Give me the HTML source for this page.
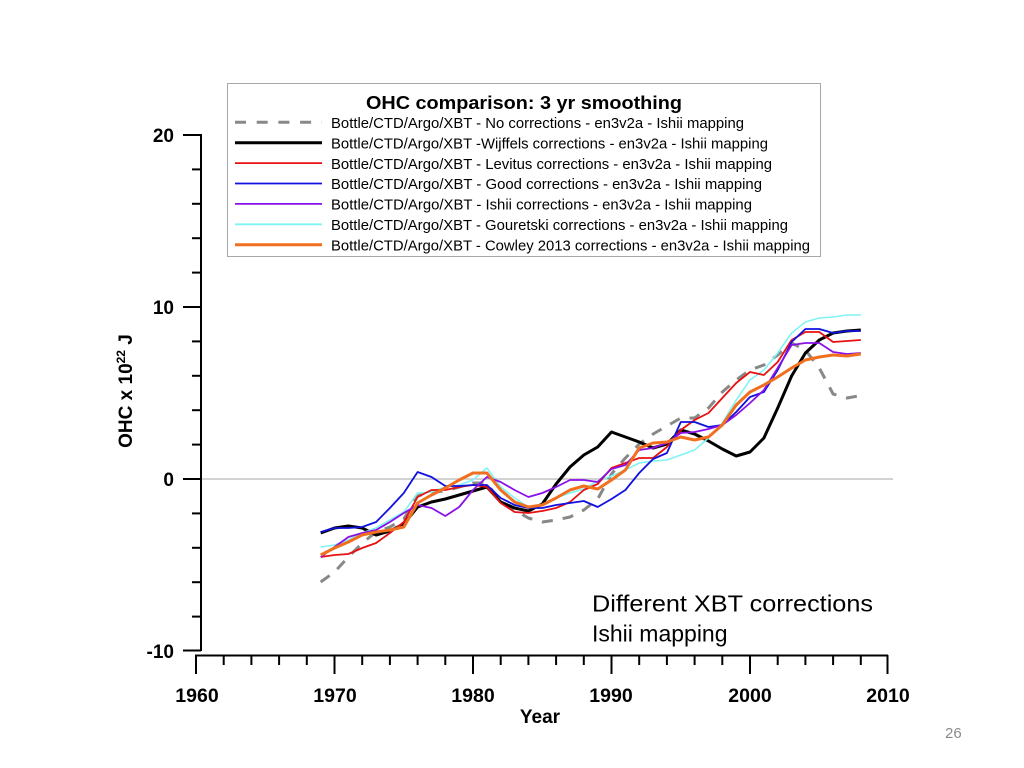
<!DOCTYPE html>
<html>
<head>
<meta charset="utf-8">
<style>
html,body{margin:0;padding:0;background:#fff;}
svg{display:block;}
text{font-family:"Liberation Sans",Arial,sans-serif;}
</style>
</head>
<body>
<svg width="1024" height="768" viewBox="0 0 1024 768" xmlns="http://www.w3.org/2000/svg">
<rect x="0" y="0" width="1024" height="768" fill="#fff"/>

<!-- zero line -->
<line x1="201" y1="479" x2="893" y2="479" stroke="#c4c4c4" stroke-width="1.5"/>

<!-- Y axis -->
<g stroke="#000" stroke-width="2" fill="none">
<line x1="201" y1="134" x2="201" y2="651"/>
<line x1="183" y1="135" x2="201" y2="135"/>
<line x1="192" y1="169.4" x2="201" y2="169.4"/>
<line x1="192" y1="203.8" x2="201" y2="203.8"/>
<line x1="192" y1="238.2" x2="201" y2="238.2"/>
<line x1="192" y1="272.6" x2="201" y2="272.6"/>
<line x1="183" y1="307" x2="201" y2="307"/>
<line x1="192" y1="341.4" x2="201" y2="341.4"/>
<line x1="192" y1="375.8" x2="201" y2="375.8"/>
<line x1="192" y1="410.2" x2="201" y2="410.2"/>
<line x1="192" y1="444.6" x2="201" y2="444.6"/>
<line x1="183" y1="479" x2="201" y2="479"/>
<line x1="192" y1="513.4" x2="201" y2="513.4"/>
<line x1="192" y1="547.8" x2="201" y2="547.8"/>
<line x1="192" y1="582.2" x2="201" y2="582.2"/>
<line x1="192" y1="616.6" x2="201" y2="616.6"/>
<line x1="183" y1="650.5" x2="201" y2="650.5"/>
</g>

<!-- X axis -->
<g stroke="#000" stroke-width="2" fill="none">
<line x1="195" y1="655.5" x2="888" y2="655.5"/>
<line x1="196" y1="655" x2="196" y2="674"/>
<line x1="223.7" y1="655" x2="223.7" y2="665"/>
<line x1="251.4" y1="655" x2="251.4" y2="665"/>
<line x1="279.1" y1="655" x2="279.1" y2="665"/>
<line x1="306.8" y1="655" x2="306.8" y2="665"/>
<line x1="334.5" y1="655" x2="334.5" y2="674"/>
<line x1="362.2" y1="655" x2="362.2" y2="665"/>
<line x1="389.9" y1="655" x2="389.9" y2="665"/>
<line x1="417.6" y1="655" x2="417.6" y2="665"/>
<line x1="445.3" y1="655" x2="445.3" y2="665"/>
<line x1="473" y1="655" x2="473" y2="674"/>
<line x1="500.7" y1="655" x2="500.7" y2="665"/>
<line x1="528.4" y1="655" x2="528.4" y2="665"/>
<line x1="556.1" y1="655" x2="556.1" y2="665"/>
<line x1="583.8" y1="655" x2="583.8" y2="665"/>
<line x1="611.5" y1="655" x2="611.5" y2="674"/>
<line x1="639.2" y1="655" x2="639.2" y2="665"/>
<line x1="666.9" y1="655" x2="666.9" y2="665"/>
<line x1="694.6" y1="655" x2="694.6" y2="665"/>
<line x1="722.3" y1="655" x2="722.3" y2="665"/>
<line x1="750" y1="655" x2="750" y2="674"/>
<line x1="777.7" y1="655" x2="777.7" y2="665"/>
<line x1="805.4" y1="655" x2="805.4" y2="665"/>
<line x1="833.1" y1="655" x2="833.1" y2="665"/>
<line x1="860.8" y1="655" x2="860.8" y2="665"/>
<line x1="887.5" y1="655" x2="887.5" y2="674"/>
</g>

<!-- Y tick labels -->
<g font-size="19" font-weight="bold" text-anchor="end" fill="#000">
<text x="174" y="142">20</text>
<text x="174" y="314">10</text>
<text x="174" y="486">0</text>
<text x="174" y="658">-10</text>
</g>

<!-- X tick labels -->
<g font-size="19.5" font-weight="bold" text-anchor="middle" fill="#000">
<text x="197" y="702">1960</text>
<text x="335" y="702">1970</text>
<text x="473" y="702">1980</text>
<text x="611" y="702">1990</text>
<text x="750" y="702">2000</text>
<text x="888" y="702">2010</text>
</g>

<text x="540" y="723" font-size="19" font-weight="bold" text-anchor="middle">Year</text>

<text transform="translate(132,391) rotate(-90)" font-size="19" font-weight="bold" text-anchor="middle">OHC x 10<tspan font-size="12" dy="-7">22</tspan><tspan dy="7"> J</tspan></text>

<!-- Series -->
<g fill="none" stroke-linejoin="round">
<polyline stroke="#888888" stroke-width="3" stroke-dasharray="11,10" points="320.7,582 334.5,572 348.4,557 362.2,543 376.1,532 389.9,527 403.8,519 417.6,496 431.5,492 445.3,491 459.2,487 473,483 486.9,483 500.7,502 514.6,510 528.4,518 542.3,522 556.1,520 570,517 583.8,510 597.7,499 611.5,474 625.4,458 639.2,444 653.1,434 666.9,426 680.8,418 694.6,418 708.5,408 722.3,392 736.2,380 750,370 763.9,365 777.7,355 791.6,343 805.4,350 819.3,368 833.1,394 847,398 858,396"/>
<polyline stroke="#000000" stroke-width="3" points="320.7,533 334.5,528 348.4,526 362.2,528 376.1,535 389.9,531 403.8,524 417.6,507 431.5,502 445.3,499 459.2,495 473,491 486.9,487 500.7,502 514.6,508 528.4,511 542.3,504 556.1,484 570,467 583.8,455 597.7,447 611.5,432 625.4,437 639.2,442 653.1,448 666.9,444 680.8,430 694.6,434 708.5,441 722.3,449 736.2,456 750,452 763.9,438 777.7,408 791.6,376 805.4,353 819.3,340 833.1,333 847,331 860.8,330"/>
<polyline stroke="#80f4f4" stroke-width="1.6" points="320.7,547 334.5,545 348.4,540 362.2,533 376.1,528 389.9,520 403.8,512 417.6,493 431.5,492 445.3,487 459.2,485 473,480 486.9,468 500.7,487 514.6,498 528.4,507 542.3,505 556.1,498 570,493 583.8,489 597.7,481 611.5,476 625.4,470 639.2,463 653.1,461 666.9,460 680.8,455 694.6,450 708.5,438 722.3,423 736.2,400 750,380 763.9,370 777.7,353 791.6,333 805.4,322 819.3,318 833.1,317 847,315 860.8,315"/>
<polyline stroke="#e81010" stroke-width="1.8" points="320.7,557 334.5,555 348.4,554 362.2,548 376.1,543 389.9,533 403.8,522 417.6,497 431.5,490 445.3,490 459.2,487 473,485 486.9,487 500.7,503 514.6,512 528.4,513 542.3,511 556.1,508 570,502 583.8,490 597.7,484 611.5,468 625.4,463 639.2,458 653.1,458 666.9,447 680.8,430 694.6,420 708.5,413 722.3,398 736.2,383 750,372 763.9,375 777.7,362 791.6,340 805.4,332 819.3,332 833.1,342 847,341 860.8,340"/>
<polyline stroke="#1010e0" stroke-width="1.8" points="320.7,532 334.5,528 348.4,528 362.2,527 376.1,522 389.9,508 403.8,493 417.6,472 431.5,477 445.3,486 459.2,486 473,485 486.9,485 500.7,498 514.6,505 528.4,508 542.3,508 556.1,505 570,503 583.8,501 597.7,507 611.5,499 625.4,490 639.2,473 653.1,459 666.9,453 680.8,422 694.6,422 708.5,427 722.3,425 736.2,412 750,397 763.9,392 777.7,370 791.6,342 805.4,329 819.3,329 833.1,333 847,331 860.8,331"/>
<polyline stroke="#8a10e8" stroke-width="1.8" points="320.7,557 334.5,547 348.4,537 362.2,533 376.1,530 389.9,522 403.8,513 417.6,505 431.5,508 445.3,516 459.2,507 473,490 486.9,477 500.7,482 514.6,490 528.4,497 542.3,493 556.1,487 570,480 583.8,480 597.7,482 611.5,469 625.4,465 639.2,450 653.1,448 666.9,443 680.8,433 694.6,432 708.5,429 722.3,425 736.2,415 750,403 763.9,390 777.7,368 791.6,345 805.4,343 819.3,343 833.1,352 847,354 860.8,353"/>
<polyline stroke="#f07020" stroke-width="3" points="320.7,555 334.5,548 348.4,542 362.2,535 376.1,532 389.9,530 403.8,527 417.6,503 431.5,495 445.3,488 459.2,480 473,473 486.9,473 500.7,490 514.6,502 528.4,507 542.3,505 556.1,498 570,490 583.8,486 597.7,489 611.5,480 625.4,470 639.2,448 653.1,443 666.9,442 680.8,437 694.6,440 708.5,437 722.3,425 736.2,405 750,392 763.9,385 777.7,377 791.6,368 805.4,360 819.3,357 833.1,355 847,356 860.8,354"/>
</g>

<!-- Legend -->
<rect x="227.5" y="83.5" width="593" height="173" fill="#fff" stroke="#a8a8a8" stroke-width="1"/>
<text x="524" y="109" font-size="18.5" font-weight="bold" text-anchor="middle" textLength="316" lengthAdjust="spacingAndGlyphs">OHC comparison: 3 yr smoothing</text>
<g fill="none">
<line x1="235" y1="122.3" x2="322" y2="122.3" stroke="#888888" stroke-width="3" stroke-dasharray="11,10.7"/>
<line x1="235" y1="142.7" x2="322" y2="142.7" stroke="#000" stroke-width="3"/>
<line x1="235" y1="163.1" x2="322" y2="163.1" stroke="#e81010" stroke-width="1.8"/>
<line x1="235" y1="183.5" x2="322" y2="183.5" stroke="#1010e0" stroke-width="1.8"/>
<line x1="235" y1="203.9" x2="322" y2="203.9" stroke="#8a10e8" stroke-width="1.8"/>
<line x1="235" y1="224.3" x2="322" y2="224.3" stroke="#80f4f4" stroke-width="1.8"/>
<line x1="235" y1="244.7" x2="322" y2="244.7" stroke="#f07020" stroke-width="3"/>
</g>
<g font-size="14.5" fill="#000">
<text x="331" y="128" textLength="413" lengthAdjust="spacingAndGlyphs">Bottle/CTD/Argo/XBT - No corrections - en3v2a - Ishii mapping</text>
<text x="331" y="148.4" textLength="437" lengthAdjust="spacingAndGlyphs">Bottle/CTD/Argo/XBT -Wijffels corrections - en3v2a - Ishii mapping</text>
<text x="331" y="168.8" textLength="441" lengthAdjust="spacingAndGlyphs">Bottle/CTD/Argo/XBT - Levitus corrections - en3v2a - Ishii mapping</text>
<text x="331" y="189.2" textLength="431" lengthAdjust="spacingAndGlyphs">Bottle/CTD/Argo/XBT - Good corrections - en3v2a - Ishii mapping</text>
<text x="331" y="209.6" textLength="421" lengthAdjust="spacingAndGlyphs">Bottle/CTD/Argo/XBT - Ishii corrections - en3v2a - Ishii mapping</text>
<text x="331" y="230" textLength="457" lengthAdjust="spacingAndGlyphs">Bottle/CTD/Argo/XBT - Gouretski corrections - en3v2a - Ishii mapping</text>
<text x="331" y="250.4" textLength="479" lengthAdjust="spacingAndGlyphs">Bottle/CTD/Argo/XBT - Cowley 2013 corrections - en3v2a - Ishii mapping</text>
</g>

<!-- Annotation -->
<g font-size="23" fill="#000">
<text x="592" y="611.5" textLength="281" lengthAdjust="spacingAndGlyphs">Different XBT corrections</text>
<text x="592" y="641.5">Ishii mapping</text>
</g>

<text x="945" y="738" font-size="15" fill="#8a8a8a">26</text>
</svg>
</body>
</html>
